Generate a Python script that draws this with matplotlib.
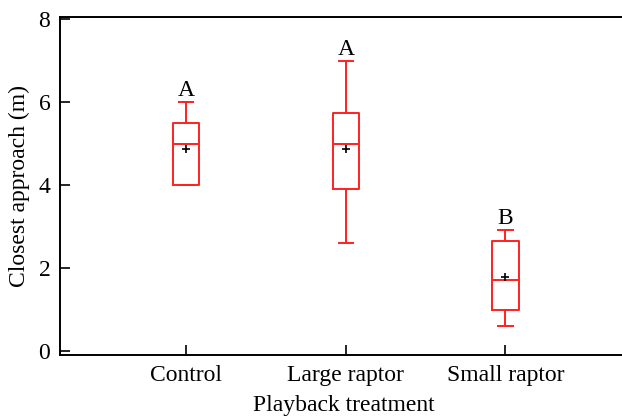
#!/usr/bin/env python3

"""Closest approach by playback treatment, box plot."""

import matplotlib
matplotlib.use('Agg')
import matplotlib.pyplot as plt

treatments = ['Control', 'Large raptor', 'Small raptor']
whislo = [4.0, 2.6, 0.6]
q1 = [4.0, 3.91, 1.0]
med = [5.0, 5.0, 1.71]
q3 = [5.5, 5.73, 2.66]
whishi = [6.0, 7.0, 2.91]
means = [4.87, 4.86, 1.79]
letters = ['A', 'A', 'B']


def main():
    plt.rcParams['font.family'] = ['Liberation Serif', 'DejaVu Serif']
    fig = plt.figure(figsize=(6.22, 4.16), dpi=100)
    ax = fig.add_axes([60 / 622, 1 - 355 / 416, 1 - 60 / 622 + 0.01, (355 - 17) / 416])

    stats = []
    for i, name in enumerate(treatments):
        stats.append({'label': name, 'whislo': whislo[i], 'q1': q1[i], 'med': med[i],
                      'q3': q3[i], 'whishi': whishi[i], 'mean': means[i], 'fliers': []})

    red = dict(color='#ff2020', linewidth=1.4)
    ax.bxp(stats, positions=[1, 2, 3], widths=0.165, showmeans=True, showfliers=False,
           boxprops=red, whiskerprops=red, capprops=red, medianprops=red,
           capwidths=0.09,
           meanprops=dict(marker='+', markeredgecolor='black', markersize=6, markeredgewidth=1.2))

    for i, letter in enumerate(letters):
        ax.text(i + 1, whishi[i] + 0.02, letter, ha='center', va='bottom', fontsize=17)

    ax.set_xlim(0.209, 3.77)
    ax.set_ylim(-0.096, 8.05)
    ax.set_yticks([0, 2, 4, 6, 8])
    ax.set_xticks([1, 2, 3])
    ax.set_xticklabels(treatments)
    ax.tick_params(axis='both', direction='in', labelsize=17, width=1.2, length=7, colors='black')
    ax.tick_params(axis='x', pad=7)
    ax.tick_params(axis='y', pad=7)
    for side in ['left', 'bottom', 'top']:
        ax.spines[side].set_linewidth(1.4)
    ax.spines['right'].set_visible(False)

    ax.set_xlabel('Playback treatment', fontsize=17, labelpad=7)
    ax.set_ylabel('Closest approach (m)', fontsize=17, labelpad=6)

    fig.savefig('out.png', dpi=100)


if __name__ == '__main__':
    main()
